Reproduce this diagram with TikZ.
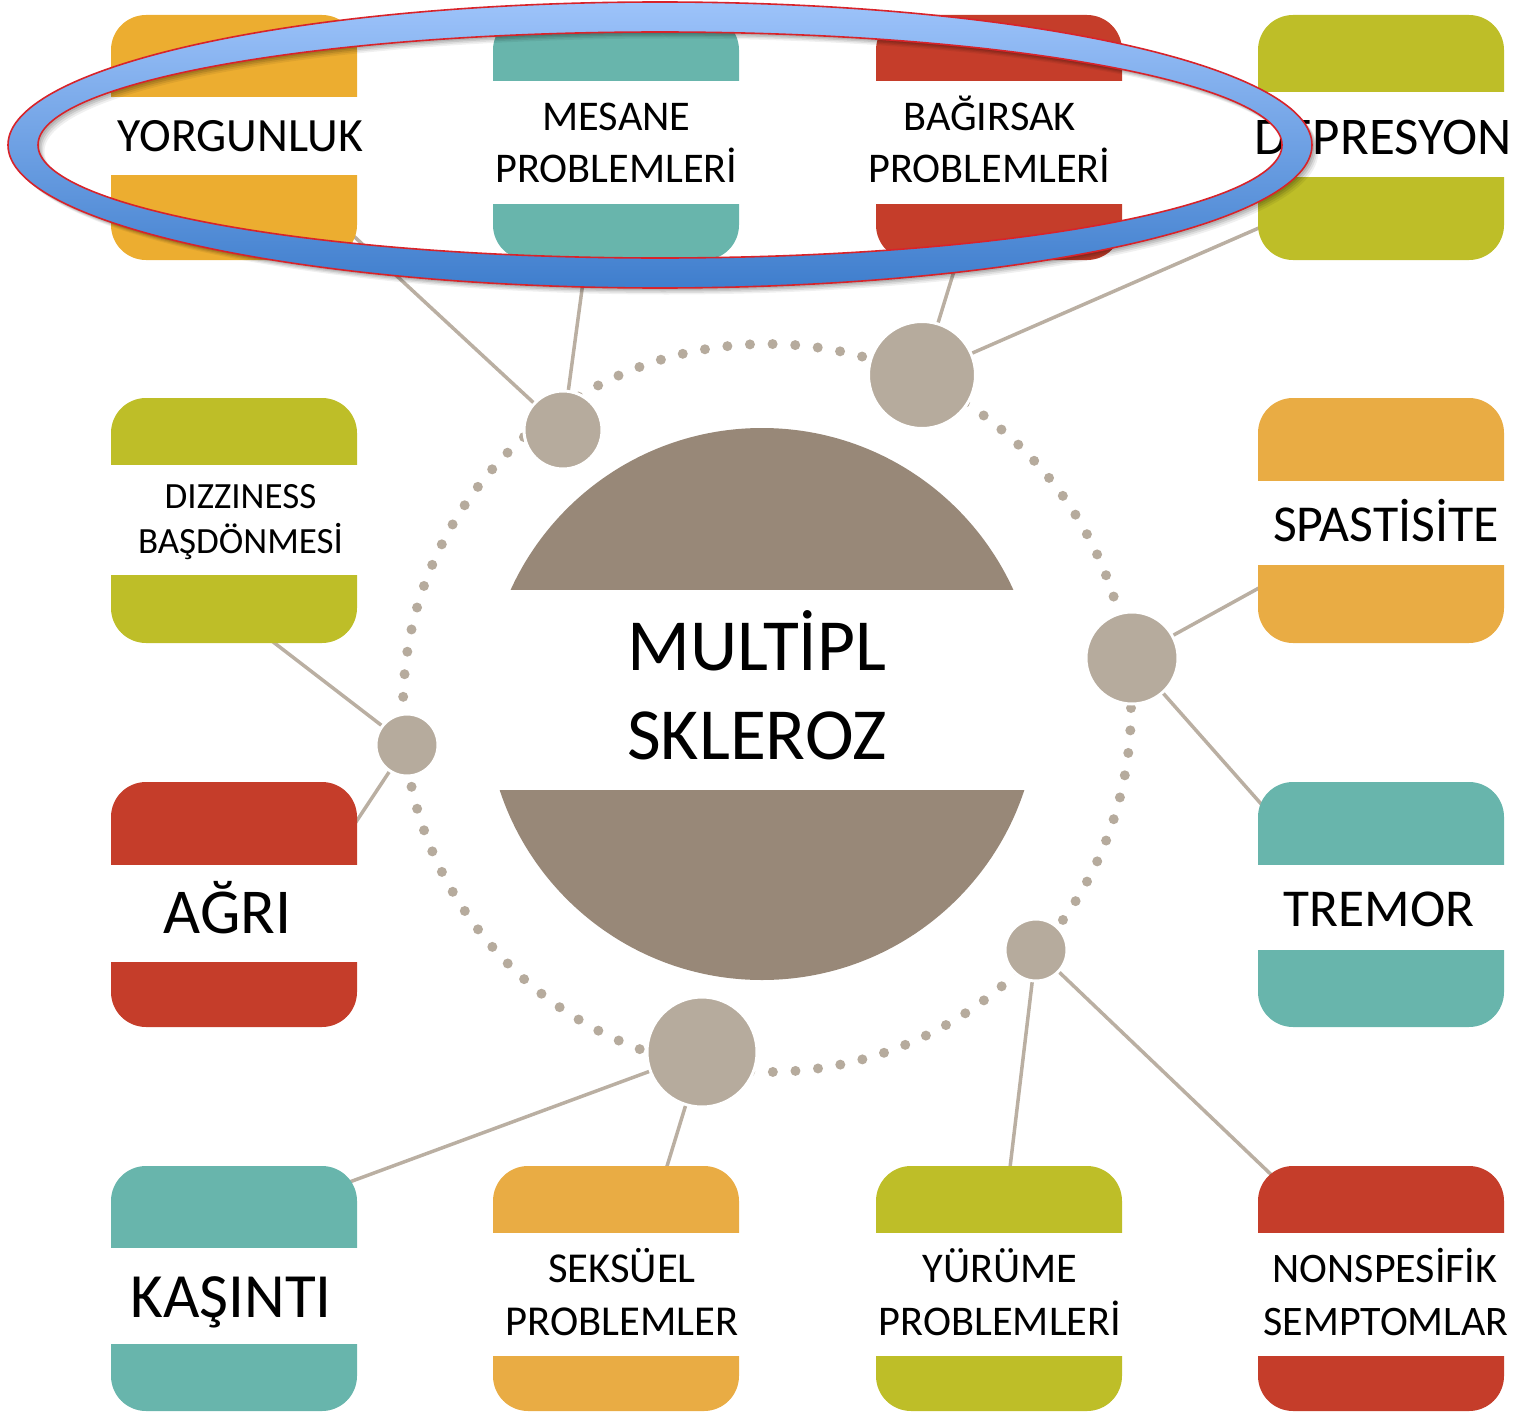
\documentclass[tikz,border=0pt]{standalone}
\usepackage{fontspec}
\setmainfont{Carlito}
\definecolor{orA}{HTML}{ECAD30}
\definecolor{orB}{HTML}{E9AC44}
\definecolor{teal}{HTML}{68B5AC}
\definecolor{redc}{HTML}{C53D2A}
\definecolor{olive}{HTML}{BEBE28}
\definecolor{hubc}{HTML}{B6AB9D}
\definecolor{discc}{HTML}{988878}
\definecolor{linec}{HTML}{BAAFA2}
\definecolor{blueT}{HTML}{9DC3FA}
\definecolor{blueB}{HTML}{3F7ECD}
\definecolor{ringred}{HTML}{D8232A}
\tikzset{
  box/.style={rectangle, rounded corners=35pt, minimum width=246pt, minimum height=245pt, inner sep=0pt},
  hub/.style={circle, fill=hubc, draw=white, line width=3pt, inner sep=0pt},
  conn/.style={draw=linec, line width=3.5pt},
  lbl/.style={inner sep=0pt, anchor=base, text=black},
}
\newcommand{\fs}[1]{\fontsize{#1}{#1}\selectfont}
\begin{document}
\begin{tikzpicture}[x=1pt,y=-1pt]
\useasboundingbox (0,0) rectangle (1519,1413);
% dotted ring
\draw[hubc, line width=10pt, line cap=round, dash pattern=on 0pt off 22.65pt] (767,708) circle (364pt);
% hubs
\node[hub, minimum size=78pt] (h1) at (563,430) {};
\node[hub, minimum size=107pt] (h2) at (922,375) {};
\node[hub, minimum size=92pt] (h3) at (1132,658) {};
\node[hub, minimum size=62pt] (h4) at (1036,950) {};
\node[hub, minimum size=110pt] (h5) at (702,1052) {};
\node[hub, minimum size=62pt] (h6) at (407,745) {};
% connector ends (inside boxes)
\coordinate (e1) at (345,228);
\coordinate (e2) at (588,245);
\coordinate (e3) at (962,245);
\coordinate (e4) at (1268,224);
\coordinate (e5) at (1268,583);
\coordinate (e6) at (1270,814);
\coordinate (e7) at (1009,1176);
\coordinate (e8) at (1281,1184);
\coordinate (e9) at (336,1187);
\coordinate (e10) at (664,1176);
\coordinate (e11) at (268,638);
\coordinate (e12) at (350,831);
\draw[conn] (h1) -- (e1);
\draw[conn] (h1) -- (e2);
\draw[conn] (h2) -- (e3);
\draw[conn] (h2) -- (e4);
\draw[conn] (h3) -- (e5);
\draw[conn] (h3) -- (e6);
\draw[conn] (h4) -- (e7);
\draw[conn] (h4) -- (e8);
\draw[conn] (h5) -- (e9);
\draw[conn] (h5) -- (e10);
\draw[conn] (h6) -- (e11);
\draw[conn] (h6) -- (e12);
% central disc
\node[circle, fill=discc, minimum size=552pt, inner sep=0pt] (core) at (762,704) {};
\fill[white] (480,590) rectangle (1045,790);
\node[lbl, font=\fs{73.5}] (c1) at (757,670) {MULTİPL};
\node[lbl, font=\fs{73.5}] (c2) at (757,759) {SKLEROZ};
% boxes row 1
\node[box, fill=orA] (b1) at (234,137.5) {};
\fill[white] (110,97) rectangle (358,175);
\node[lbl, font=\fs{47.8}] (t1) at (240.5,151) {YORGUNLUK};
\node[box, fill=teal] (b2) at (616,137.5) {};
\fill[white] (492,81) rectangle (740,204);
\node[lbl, font=\fs{42.3}] (t2a) at (616.5,131) {MESANE};
\node[lbl, font=\fs{42.3}] (t2b) at (616.5,182) {PROBLEMLERİ};
\node[box, fill=redc] (b3) at (999,137.5) {};
\fill[white] (875,81) rectangle (1123,204);
\node[lbl, font=\fs{42.3}] (t3a) at (989.5,131) {BAĞIRSAK};
\node[lbl, font=\fs{42.3}] (t3b) at (989.5,182) {PROBLEMLERİ};
\node[box, fill=olive] (b4) at (1381,137.5) {};
\fill[white] (1257,92) rectangle (1505,177);
\node[lbl, font=\fs{53}] (t4) at (1383,154) {DEPRESYON};
% row 2
\node[box, fill=olive] (b5) at (234,520.5) {};
\fill[white] (110,465) rectangle (358,575);
\node[lbl, font=\fs{37}] (t5a) at (240.5,508) {DIZZINESS};
\node[lbl, font=\fs{37}] (t5b) at (240.5,553) {BAŞDÖNMESİ};
\node[box, fill=orB] (b6) at (1381,520.5) {};
\fill[white] (1257,481) rectangle (1505,565);
\node[lbl, font=\fs{51.8}] (t6) at (1386,541) {SPASTİSİTE};
% row 3
\node[box, fill=redc] (b7) at (234,904.5) {};
\fill[white] (110,865) rectangle (358,962);
\node[lbl, font=\fs{64}] (t7) at (227.5,933) {AĞRI};
\node[box, fill=teal] (b8) at (1381,904.5) {};
\fill[white] (1257,865) rectangle (1505,950);
\node[lbl, font=\fs{53.3}] (t8) at (1379,926) {TREMOR};
% row 4
\node[box, fill=teal] (b9) at (234,1288.5) {};
\fill[white] (110,1248) rectangle (358,1344);
\node[lbl, font=\fs{63}] (t9) at (231,1317) {KAŞINTI};
\node[box, fill=orB] (b10) at (616,1288.5) {};
\fill[white] (492,1233) rectangle (740,1356);
\node[lbl, font=\fs{42.6}] (t10a) at (622,1282) {SEKSÜEL};
\node[lbl, font=\fs{42.6}] (t10b) at (622,1335) {PROBLEMLER};
\node[box, fill=olive] (b11) at (999,1288.5) {};
\fill[white] (875,1233) rectangle (1123,1356);
\node[lbl, font=\fs{42.3}] (t11a) at (1000,1282) {YÜRÜME};
\node[lbl, font=\fs{42.3}] (t11b) at (1000,1335) {PROBLEMLERİ};
\node[box, fill=redc] (b12) at (1381,1288.5) {};
\fill[white] (1257,1233) rectangle (1505,1356);
\node[lbl, font=\fs{42}] (t12a) at (1385,1282) {NONSPESİFİK};
\node[lbl, font=\fs{42}] (t12b) at (1386,1335) {SEMPTOMLAR};
% highlight ring: shadow
\foreach \d/\o in {2/0.10,3.5/0.10,5/0.08,6.5/0.06}{
  \fill[black, opacity=\o, even odd rule] (660+\d,145+\d) ellipse [x radius=652pt, y radius=143pt] (660+\d,145+\d) ellipse [x radius=622pt, y radius=113pt];
}
\shade[top color=blueT, bottom color=blueB, even odd rule] (660,145) ellipse [x radius=652pt, y radius=143pt] (660,145) ellipse [x radius=622pt, y radius=113pt];
\draw[ringred, line width=1.6pt] (660,145) ellipse [x radius=652pt, y radius=143pt];
\draw[ringred, line width=1.6pt] (660,145) ellipse [x radius=622pt, y radius=113pt];
\end{tikzpicture}
\end{document}
